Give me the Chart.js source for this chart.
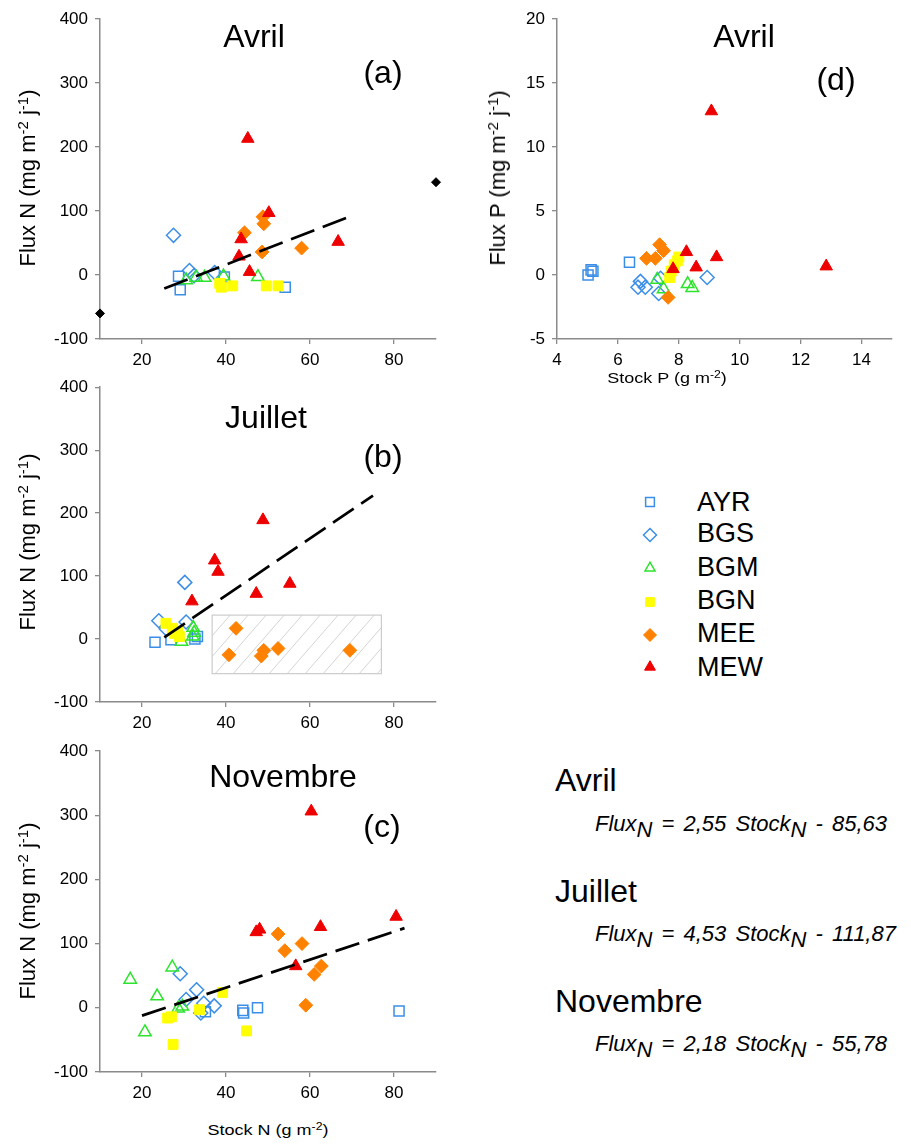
<!DOCTYPE html>
<html>
<head>
<meta charset="utf-8">
<script src="https://cdn.jsdelivr.net/npm/chart.js@4.4.1/dist/chart.umd.min.js"></script>
<style>
body{margin:0;background:#fff;}
#page{position:relative;width:911px;height:1146px;overflow:hidden;font-family:"Liberation Sans",Arial,sans-serif;color:#000;}
canvas{position:absolute;}
.t{position:absolute;white-space:nowrap;line-height:1;}
.c{transform:translateX(-50%);}
.big{font-size:32px;}
.ytl{font-size:22px;transform:translate(-50%,-50%) rotate(-90deg);}
.xtl{font-size:15px;transform:translateX(-50%) scaleX(1.2);}
.leg{font-size:27px;left:697px;}
.eq{font-size:22px;font-style:italic;left:595px;word-spacing:3px;}
.sup{font-size:0.68em;position:relative;top:-0.5em;}
.sub{position:relative;top:0.27em;}
</style>
</head>
<body>
<div id="page">
  <canvas id="cA" width="450" height="380" style="left:0;top:0"></canvas>
  <canvas id="cB" width="450" height="370" style="left:0;top:370px"></canvas>
  <canvas id="cC" width="450" height="380" style="left:0;top:730px"></canvas>
  <canvas id="cD" width="461" height="380" style="left:450px;top:0"></canvas>
  <canvas id="cLeg" width="40" height="200" style="left:630px;top:485px"></canvas>

  <div class="t big c" style="left:254px;top:20px">Avril</div>
  <div class="t big c" style="left:383px;top:56px">(a)</div>
  <div class="t big c" style="left:266px;top:401px">Juillet</div>
  <div class="t big c" style="left:383px;top:440px">(b)</div>
  <div class="t big c" style="left:283px;top:760px">Novembre</div>
  <div class="t big c" style="left:382px;top:810px">(c)</div>
  <div class="t big c" style="left:744px;top:20px">Avril</div>
  <div class="t big c" style="left:836px;top:63px">(d)</div>

  <div class="t ytl" style="left:28px;top:178px">Flux N (mg m<span class="sup">-2</span> j<span class="sup">-1</span>)</div>
  <div class="t ytl" style="left:28px;top:542px">Flux N (mg m<span class="sup">-2</span> j<span class="sup">-1</span>)</div>
  <div class="t ytl" style="left:28px;top:911px">Flux N (mg m<span class="sup">-2</span> j<span class="sup">-1</span>)</div>
  <div class="t ytl" style="left:498px;top:178px">Flux P (mg m<span class="sup">-2</span> j<span class="sup">-1</span>)</div>
  <div class="t xtl" style="left:268px;top:1122px">Stock N (g m<span class="sup">-2</span>)</div>
  <div class="t xtl" style="left:667px;top:370px">Stock P (g m<span class="sup">-2</span>)</div>

  <div class="t leg" style="top:489px">AYR</div>
  <div class="t leg" style="top:520px">BGS</div>
  <div class="t leg" style="top:554px">BGM</div>
  <div class="t leg" style="top:587px">BGN</div>
  <div class="t leg" style="top:620px">MEE</div>
  <div class="t leg" style="top:654px">MEW</div>

  <div class="t big" style="left:555px;top:764px">Avril</div>
  <div class="t eq" style="top:813px">Flux<span class="sub">N</span> = 2,55 Stock<span class="sub">N</span> - 85,63</div>
  <div class="t big" style="left:555px;top:875px">Juillet</div>
  <div class="t eq" style="top:923px">Flux<span class="sub">N</span> = 4,53 Stock<span class="sub">N</span> - 111,87</div>
  <div class="t big" style="left:555px;top:985px">Novembre</div>
  <div class="t eq" style="top:1033px">Flux<span class="sub">N</span> = 2,18 Stock<span class="sub">N</span> - 55,78</div>
</div>

<script>
// sites, in drawing order
const SITES = ['AYR', 'BGS', 'BGM', 'BGN', 'MEE', 'MEW'];

// axes
const N_STOCK_RANGE = [10, 90];
const N_FLUX_RANGE = [-100, 400];
const N_STOCK_TICKS = [20, 40, 60, 80];
const N_FLUX_TICKS = [-100, 0, 100, 200, 300, 400];
const P_STOCK_RANGE = [4, 15];
const P_FLUX_RANGE = [-5, 20];
const P_STOCK_TICKS = [4, 6, 8, 10, 12, 14];
const P_FLUX_TICKS = [-5, 0, 5, 10, 15, 20];

// Avril, N : [stock, flux]
const ayrAvrilN = [[28.7,-2],[29.1,-23],[39.6,-3],[54.1,-19]];
const bgsAvrilN = [[27.5,62],[31.3,7],[32.4,-1],[37.3,4]];
const bgmAvrilN = [[30.5,-8],[32.9,-4],[34.9,-4],[39.4,-2],[47.6,-3]];
const bgnAvrilN = [[38.5,-13],[38.9,-19],[41.6,-17],[49.6,-17],[52.4,-17]];
const meeAvrilN = [[44.4,66],[48.8,91],[49.0,80],[48.6,36],[58.0,42]];
const mewAvrilN = [[45.2,213],[50.2,97],[43.6,56],[43.1,29],[45.6,5],[66.7,52]];
const boundsAvrilN = [[10,-60],[90,145]];

// Juillet, N
const ayrJuilletN = [[23.1,-5],[26.9,-1],[32.6,0],[33.2,4]];
const bgsJuilletN = [[30.2,90],[24.0,29],[30.5,27],[25.8,16]];
const bgmJuilletN = [[32.2,18],[32.1,4],[29.4,-4],[32.4,10]];
const bgnJuilletN = [[25.7,25],[27.3,17],[28.5,12],[28.9,4],[27.7,9]];
const meeJuilletN = [[42.4,17],[40.7,-25],[49.0,-18],[48.4,-27],[52.4,-15],[69.5,-18]];
const mewJuilletN = [[48.8,189],[37.3,125],[38.1,107],[31.9,60],[47.2,72],[55.2,88]];
// MEE points left out of the July fit
const excludedStock = [36.7, 77];
const excludedFlux = [-55, 38];

// Novembre, N
const ayrNovembreN = [[35.1,-6],[44.0,-4],[44.2,-8],[47.5,0],[81.2,-5]];
const bgsNovembreN = [[29.1,53],[33.0,28],[30.5,13],[34.7,7],[37.2,3],[34.0,-8]];
const bgmNovembreN = [[17.2,44],[27.2,63],[23.6,18],[20.7,-38],[28.6,-1],[29.6,2]];
const bgnNovembreN = [[26.1,-16],[27.0,-14],[27.4,-57],[33.7,-3],[39.2,24],[44.9,-36]];
const meeNovembreN = [[52.4,115],[54.0,89],[58.1,100],[61.0,52],[62.7,65],[59.0,4]];
const mewNovembreN = [[60.3,306],[47.2,118],[48.0,122],[62.5,126],[80.5,142],[56.6,65]];

// Avril, P
const ayrAvrilP = [[5.02,0.0],[5.12,0.4],[5.18,0.3],[6.38,1.0]];
const bgsAvrilP = [[6.74,-0.5],[6.66,-0.95],[6.9,-0.95],[7.34,-1.45],[7.4,-0.25],[8.93,-0.2]];
const bgmAvrilP = [[7.29,-0.36],[7.5,-1.1],[8.29,-0.7],[8.44,-1.0]];
const bgnAvrilP = [[7.7,-0.2],[7.75,0.3],[7.85,0.8],[7.95,1.1],[8.0,1.4]];
const meeAvrilP = [[7.37,2.37],[7.5,1.9],[6.94,1.3],[7.23,1.3],[7.65,-1.75]];
const mewAvrilP = [[9.07,12.8],[8.25,1.8],[9.24,1.4],[8.57,0.6],[7.81,0.47],[12.84,0.68]];

// regressions: slope, intercept, first and last stock
const fitAvril = [2.55, -85.63, 25.3, 69.7];
const fitJuillet = [4.53, -111.87, 25.3, 75.0];
const fitNovembre = [2.18, -55.78, 20.0, 82.5];

const FONT = '"Liberation Sans", Arial, sans-serif';
const BLUE = '#3b8ee8', GREEN = '#2de32d', YELLOW = '#ffff00', ORANGE = '#ff8100', RED = '#ee0000';
const NONE = 'rgba(0,0,0,0)';
const STYLE = {
  AYR: {pointStyle: 'rect', radius: 7.1, fill: NONE, line: BLUE, bw: 1.5},
  BGS: {pointStyle: 'rectRot', radius: 7, fill: NONE, line: BLUE, bw: 1.5},
  BGM: {pointStyle: 'triangle', radius: 7.2, fill: NONE, line: GREEN, bw: 1.5},
  BGN: {pointStyle: 'rect', radius: 7, fill: YELLOW, line: YELLOW, bw: 1},
  MEE: {pointStyle: 'rectRot', radius: 6.9, fill: ORANGE, line: ORANGE, bw: 1},
  MEW: {pointStyle: 'triangle', radius: 7.2, fill: RED, line: RED, bw: 1}
};

Chart.defaults.font.family = FONT;
Chart.defaults.animation = false;

const pts = arr => arr.map(p => ({x: p[0], y: p[1]}));

function siteSets(series) {
  return series.map((arr, i) => {
    const s = STYLE[SITES[i]];
    return {
      type: 'scatter', label: SITES[i], data: pts(arr),
      pointStyle: s.pointStyle, pointRadius: s.radius,
      backgroundColor: s.fill, borderColor: s.line, borderWidth: s.bw,
      order: SITES.length - i + 1
    };
  });
}

function trendSet(fit) {
  return {
    type: 'line', label: 'fit',
    data: [fit[2], fit[3]].map(x => ({x: x, y: fit[0] * x + fit[1]})),
    borderColor: '#000', borderWidth: 2.7, borderDash: [25, 9],
    pointRadius: 0, fill: false, order: 0
  };
}

function axis(range, ticks, pos, size) {
  return {
    type: 'linear', position: pos, min: range[0], max: range[1],
    afterBuildTicks: s => { s.ticks = ticks.map(v => ({value: v})); },
    afterFit: s => { if (pos === 'left') s.width = size; else s.height = size; },
    grid: {drawOnChartArea: false, drawTicks: true, tickLength: 5, color: '#8a8a8a', lineWidth: 1.3},
    border: {display: true, color: '#8a8a8a', width: 1.5},
    ticks: {color: '#000', font: {size: 17}, padding: pos === 'left' ? 7 : 6,
            autoSkip: false, maxRotation: 0, callback: v => String(v)}
  };
}

function panel(id, datasets, x, y, pad, plugins) {
  return new Chart(document.getElementById(id), {
    data: {datasets: datasets},
    options: {
      responsive: false,
      layout: {padding: pad},
      plugins: {legend: {display: false}, tooltip: {enabled: false}},
      scales: {x: x, y: y}
    },
    plugins: plugins || []
  });
}

// hatched box round the points excluded from the July regression
const hatchBox = {
  id: 'hatchBox',
  beforeDatasetsDraw(chart) {
    const {ctx, scales: {x, y}} = chart;
    const l = x.getPixelForValue(excludedStock[0]), r = x.getPixelForValue(excludedStock[1]);
    const t = y.getPixelForValue(excludedFlux[1]), b = y.getPixelForValue(excludedFlux[0]);
    const h = b - t, run = h / 1.15;
    ctx.save();
    ctx.beginPath(); ctx.rect(l, t, r - l, h); ctx.clip();
    ctx.strokeStyle = '#d4d4d4'; ctx.lineWidth = 1;
    for (let k = l - run; k < r; k += 18) {
      ctx.beginPath(); ctx.moveTo(k, b); ctx.lineTo(k + run, t); ctx.stroke();
    }
    ctx.restore();
    ctx.save();
    ctx.strokeStyle = '#cccccc'; ctx.lineWidth = 1.2;
    ctx.strokeRect(l, t, r - l, h);
    ctx.restore();
  }
};

// (a) Avril N
panel('cA',
  [trendSet(fitAvril)].concat(
    siteSets([ayrAvrilN, bgsAvrilN, bgmAvrilN, bgnAvrilN, meeAvrilN, mewAvrilN]),
    [{type: 'scatter', label: 'bornes', data: pts(boundsAvrilN), pointStyle: 'rectRot',
      pointRadius: 4.5, backgroundColor: '#000', borderColor: '#000', borderWidth: 1,
      order: 9, clip: false}]),
  axis(N_STOCK_RANGE, N_STOCK_TICKS, 'bottom', 41),
  axis(N_FLUX_RANGE, N_FLUX_TICKS, 'left', 100),
  {top: 19, right: 14, left: 0, bottom: 0});

// (b) Juillet N
panel('cB',
  [trendSet(fitJuillet)].concat(
    siteSets([ayrJuilletN, bgsJuilletN, bgmJuilletN, bgnJuilletN, meeJuilletN, mewJuilletN])),
  axis(N_STOCK_RANGE, N_STOCK_TICKS, 'bottom', 38),
  axis(N_FLUX_RANGE, N_FLUX_TICKS, 'left', 100),
  {top: 11, right: 14, left: 0, bottom: 0}, [hatchBox]);

// (c) Novembre N
panel('cC',
  [trendSet(fitNovembre)].concat(
    siteSets([ayrNovembreN, bgsNovembreN, bgmNovembreN, bgnNovembreN, meeNovembreN, mewNovembreN])),
  axis(N_STOCK_RANGE, N_STOCK_TICKS, 'bottom', 38),
  axis(N_FLUX_RANGE, N_FLUX_TICKS, 'left', 100),
  {top: 21, right: 14, left: 0, bottom: 0});

// (d) Avril P
panel('cD',
  siteSets([ayrAvrilP, bgsAvrilP, bgmAvrilP, bgnAvrilP, meeAvrilP, mewAvrilP]),
  axis(P_STOCK_RANGE, P_STOCK_TICKS, 'bottom', 41),
  axis(P_FLUX_RANGE, P_FLUX_TICKS, 'left', 107),
  {top: 19, right: 19, left: 0, bottom: 0});

// legend symbols
const legendRows = [17, 50, 83, 117, 150, 182];
const lg = document.getElementById('cLeg').getContext('2d');
const legendRadius = {AYR: 6.2, BGS: 6.5, BGM: 5.8, BGN: 6.2, MEE: 6.5, MEW: 6.3};
SITES.forEach((site, i) => {
  const s = STYLE[site];
  lg.fillStyle = s.fill; lg.strokeStyle = s.line; lg.lineWidth = s.bw;
  Chart.helpers.drawPoint(lg, {pointStyle: s.pointStyle, radius: legendRadius[site],
    borderWidth: s.bw, rotation: 0}, 20, legendRows[i]);
});
</script>
</body>
</html>
